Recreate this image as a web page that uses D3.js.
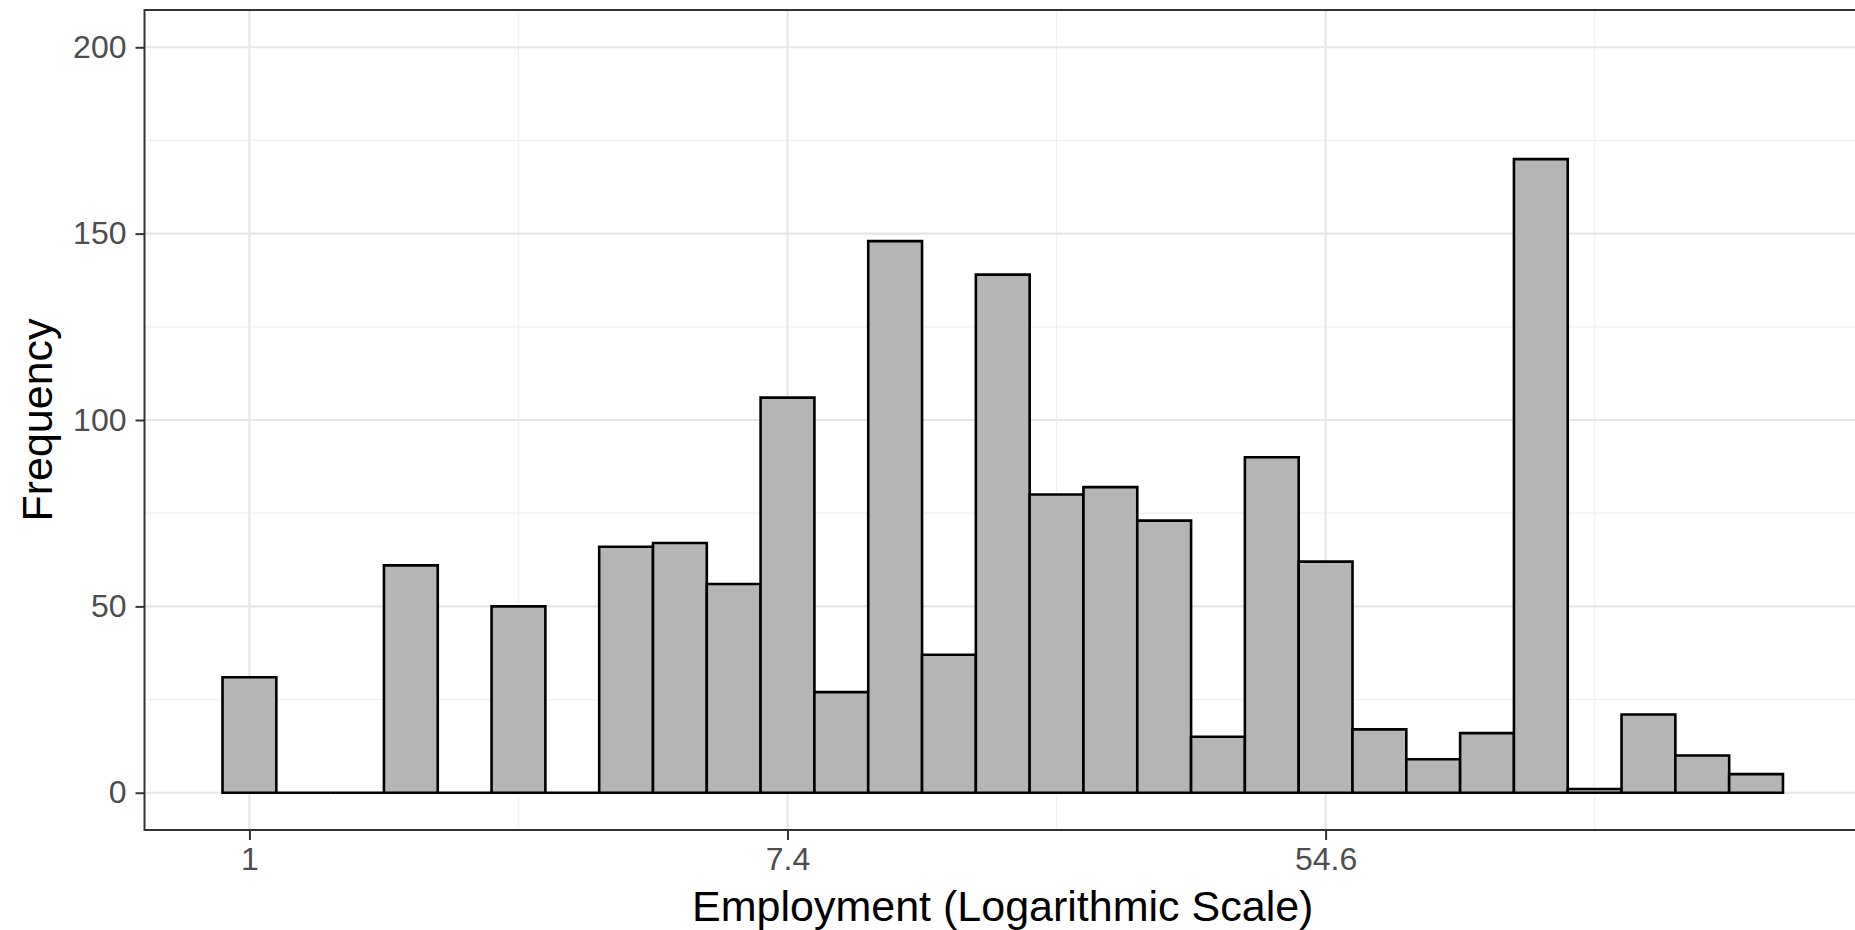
<!DOCTYPE html>
<html>
<head>
<meta charset="utf-8">
<script src="https://cdn.jsdelivr.net/npm/d3@7"></script>
<style>
  html, body { margin: 0; padding: 0; background: #ffffff; }
  svg { display: block; }
  text { font-family: "Liberation Sans", Arial, Helvetica, sans-serif; }
</style>
</head>
<body>
<svg id="chart" width="1855" height="930"></svg>
<script>
// ---- Data ----
// Histogram bin centres on the natural-log scale of employment
const binLogCenters = [0.0, 0.2, 0.4, 0.6, 0.8, 1.0, 1.2, 1.4, 1.6, 1.8,
                       2.0, 2.2, 2.4, 2.6, 2.8, 3.0, 3.2, 3.4, 3.6, 3.8,
                       4.0, 4.2, 4.4, 4.6, 4.8, 5.0, 5.2, 5.4, 5.6];
const binLogWidth = 0.2;
const counts = [31, 0, 0, 61, 0, 50, 0, 66, 67, 56,
                106, 27, 148, 37, 139, 80, 82, 73, 15, 90,
                62, 17, 9, 16, 170, 1, 21, 10, 5];
// Axis ticks
const xMajorTicks = [1, Math.exp(2), Math.exp(4)];
const xTickLabels = ["1", "7.4", "54.6"];
const xMinorTicks = [Math.exp(1), Math.exp(3), Math.exp(5)];
const yMajorTicks = [0, 50, 100, 150, 200];
const yMinorTicks = [25, 75, 125, 175];
const xTitle = "Employment (Logarithmic Scale)";
const yTitle = "Frequency";

// ---- Layout ----
const panel = { left: 144.5, right: 1861, top: 10, bottom: 830 };
const svg = d3.select("#chart");

const x = d3.scaleLog().base(Math.E)
  .domain([Math.exp(-0.39), Math.exp(5.99)])
  .range([panel.left, panel.right]);
const y = d3.scaleLinear()
  .domain([-10, 210])
  .range([panel.bottom, panel.top]);

// panel background
svg.append("rect")
  .attr("x", panel.left).attr("y", panel.top)
  .attr("width", panel.right - panel.left).attr("height", panel.bottom - panel.top)
  .attr("fill", "#ffffff");

const grid = svg.append("g");
// minor gridlines
grid.selectAll("line.ymin").data(yMinorTicks).enter().append("line")
  .attr("x1", panel.left).attr("x2", panel.right)
  .attr("y1", d => y(d)).attr("y2", d => y(d))
  .attr("stroke", "#f0f0f0").attr("stroke-width", 1.2);
grid.selectAll("line.xmin").data(xMinorTicks).enter().append("line")
  .attr("y1", panel.top).attr("y2", panel.bottom)
  .attr("x1", d => x(d)).attr("x2", d => x(d))
  .attr("stroke", "#f0f0f0").attr("stroke-width", 1.2);
// major gridlines
grid.selectAll("line.ymaj").data(yMajorTicks).enter().append("line")
  .attr("x1", panel.left).attr("x2", panel.right)
  .attr("y1", d => y(d)).attr("y2", d => y(d))
  .attr("stroke", "#e6e6e6").attr("stroke-width", 2.2);
grid.selectAll("line.xmaj").data(xMajorTicks).enter().append("line")
  .attr("y1", panel.top).attr("y2", panel.bottom)
  .attr("x1", d => x(d)).attr("x2", d => x(d))
  .attr("stroke", "#e6e6e6").attr("stroke-width", 2.2);

// bars
const bars = binLogCenters.map((c, i) => ({
  x0: Math.exp(c - binLogWidth / 2),
  x1: Math.exp(c + binLogWidth / 2),
  n: counts[i]
}));
svg.append("g").selectAll("path").data(bars).enter().append("path")
  .attr("d", d => {
    const a = x(d.x0), b = x(d.x1), t = y(d.n), z = y(0);
    return `M${a},${z}H${b}V${t}H${a}Z`;
  })
  .attr("fill", "#b5b5b5")
  .attr("stroke", "#000000")
  .attr("stroke-width", 2.6)
  .attr("stroke-linejoin", "miter");

// panel border
svg.append("rect")
  .attr("x", panel.left).attr("y", panel.top)
  .attr("width", panel.right - panel.left).attr("height", panel.bottom - panel.top)
  .attr("fill", "none").attr("stroke", "#333333").attr("stroke-width", 2);

// y axis
const yAxis = d3.axisLeft(y).tickValues(yMajorTicks).tickSize(9).tickPadding(9);
const yg = svg.append("g").attr("transform", `translate(${panel.left},0)`).call(yAxis);
yg.select(".domain").remove();
yg.selectAll(".tick line").attr("stroke", "#333333").attr("stroke-width", 2);
yg.selectAll(".tick text")
  .attr("fill", "#4d4d4d").attr("font-size", 32)
  .attr("font-family", "Liberation Sans, Arial, sans-serif");

// x axis
const xAxis = d3.axisBottom(x).tickValues(xMajorTicks)
  .tickFormat((d, i) => xTickLabels[i]).tickSize(10).tickPadding(7);
const xg = svg.append("g").attr("transform", `translate(0,${panel.bottom})`).call(xAxis);
xg.select(".domain").remove();
xg.selectAll(".tick line").attr("stroke", "#333333").attr("stroke-width", 2);
xg.selectAll(".tick text")
  .attr("fill", "#4d4d4d").attr("font-size", 32)
  .attr("font-family", "Liberation Sans, Arial, sans-serif");

// axis titles
svg.append("text")
  .attr("x", (panel.left + panel.right) / 2).attr("y", 921)
  .attr("text-anchor", "middle")
  .attr("font-size", 43).attr("fill", "#000000")
  .text(xTitle);
svg.append("text")
  .attr("transform", `translate(52,${(panel.top + panel.bottom) / 2}) rotate(-90)`)
  .attr("text-anchor", "middle")
  .attr("font-size", 43).attr("fill", "#000000")
  .text(yTitle);
</script>
</body>
</html>
